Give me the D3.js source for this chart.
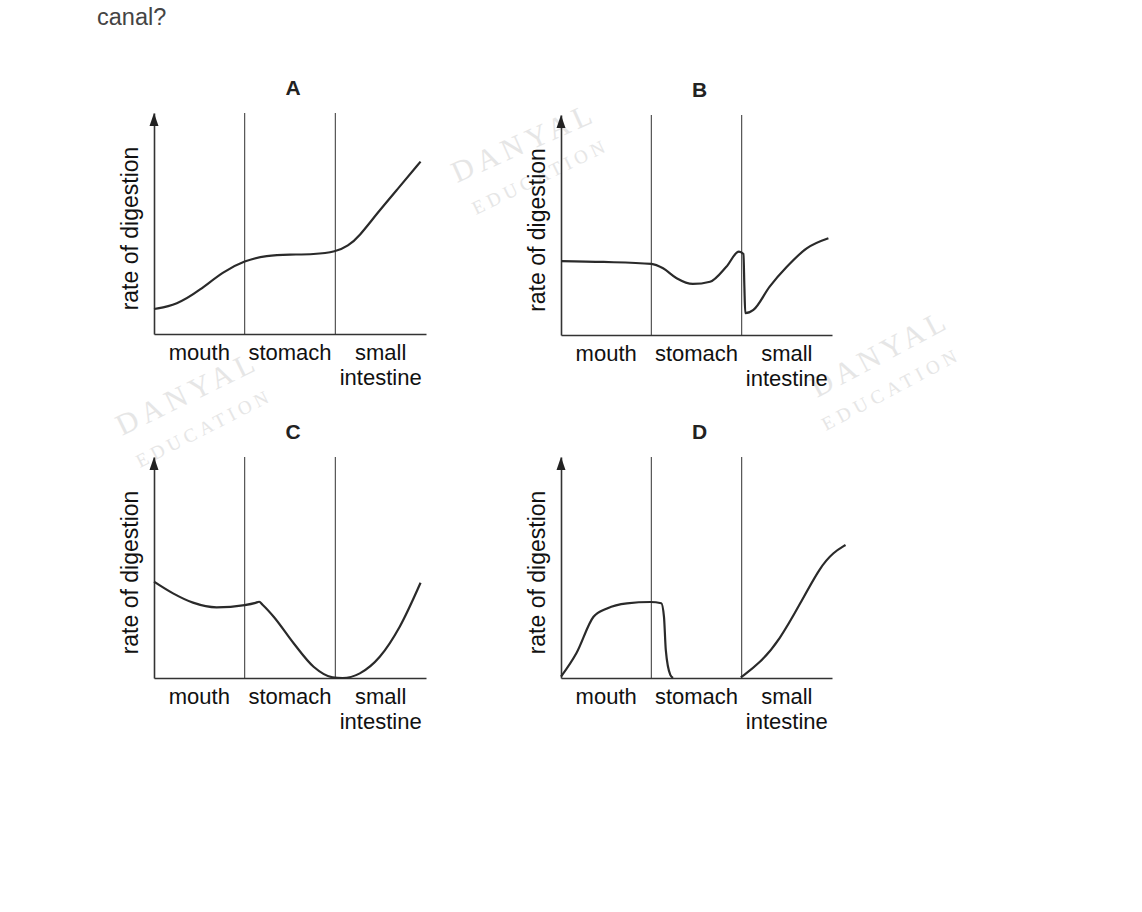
<!DOCTYPE html>
<html>
<head>
<meta charset="utf-8">
<script src="https://cdn.jsdelivr.net/npm/d3@7"></script>
<style>
  body { margin: 0; background: #fff; }
  svg { display: block; }
  text { font-family: "Liberation Sans", Arial, sans-serif; }
</style>
</head>
<body>
<script>
// region names along the canal, one unit of x each
const sections = ["mouth", "stomach", "small intestine"];
const titles = ["A", "B", "C", "D"];
const yLabel = "rate of digestion";

// rate of digestion, x in sections (0-3), y in 0-10
const curveA = [[0,1.13],[0.25,1.31],[0.51,1.99],[0.76,2.82],[1.0,3.32],[1.24,3.56],[1.5,3.6],
  [1.76,3.6],[2.01,3.72],[2.14,3.98],[2.26,4.4],[2.46,5.46],[2.71,6.67],[2.94,7.8]];
const curveB = [[0,3.36],[0.47,3.32],[1.0,3.23],[1.13,3.03],[1.28,2.58],[1.46,2.32],[1.65,2.42],
  [1.83,3.1],[1.97,3.79],[2.02,3.68],[2.03,2.2],[2.04,0.99],[2.13,1.14],[2.31,2.2],[2.5,3.1],
  [2.72,3.94],[2.96,4.4]];
const curveC = [[0,4.36],[0.21,3.83],[0.43,3.41],[0.69,3.2],[1.0,3.3],[1.12,3.4],[1.16,3.45],
  [1.2,3.3],[1.32,2.77],[1.54,1.57],[1.76,0.51],[1.97,0.03],[2.08,0],[2.27,0.21],[2.49,0.96],
  [2.71,2.32],[2.94,4.31]];
const curveD1 = [[0,0.06],[0.17,1.12],[0.36,2.77],[0.51,3.15],[0.73,3.38],[0.99,3.44],[1.11,3.38],
  [1.14,2.77],[1.16,1.27],[1.21,0.14],[1.24,0]];
const curveD2 = [[1.99,0.03],[2.2,0.66],[2.42,1.72],[2.65,3.38],[2.87,5.04],[3.02,5.7],[3.15,6.02]];

const panelCurves = [[curveA], [curveB], [curveC], [curveD1, curveD2]];
// smooth sketches get a spline, the ones with sharp drops keep monotone
const smooth = [curveA, curveD2];

const w = 1142, h = 912;
const boxes = [
  {x0: 154, x1: 426, base: 334, top: 113},
  {x0: 561, x1: 832, base: 335, top: 115},
  {x0: 154, x1: 426, base: 678, top: 457},
  {x0: 561, x1: 832, base: 678, top: 457}
];

const svg = d3.select("body").append("svg")
  .attr("width", w)
  .attr("height", h);

// watermarks (behind everything)
const marks = [
  {x: 457, y: 183, a: -24, t: "DANYAL", s: 30, len: 150},
  {x: 476, y: 215, a: -26, t: "EDUCATION", s: 19, len: 145},
  {x: 817, y: 398, a: -28, t: "DANYAL", s: 30, len: 148},
  {x: 826, y: 431, a: -28, t: "EDUCATION", s: 19, len: 150},
  {x: 122, y: 436, a: -26, t: "DANYAL", s: 30, len: 150},
  {x: 140, y: 468, a: -27, t: "EDUCATION", s: 19, len: 146}
];
svg.append("g").selectAll("text")
  .data(marks)
  .enter()
  .append("text")
  .attr("transform", d => "translate(" + d.x + "," + d.y + ") rotate(" + d.a + ")")
  .attr("textLength", d => d.len)
  .attr("lengthAdjust", "spacing")
  .style("font-family", "'Liberation Serif', 'DejaVu Serif', serif")
  .style("font-size", d => d.s + "px")
  .attr("fill", "#e6e6e6")
  .text(d => d.t);

svg.append("text")
  .attr("x", 97)
  .attr("y", 25)
  .style("font-size", "23.5px")
  .attr("fill", "#444")
  .text("canal?");

const lineSharp = d3.line().curve(d3.curveMonotoneX);
const lineSmooth = d3.line().curve(d3.curveBasis);

boxes.forEach((b, i) => {
  const x = d3.scaleLinear().domain([0, 3]).range([b.x0, b.x1]);
  const y = d3.scaleLinear().domain([0, 10]).range([b.base, b.top]);
  const band = d3.scaleBand().domain(sections).range([b.x0, b.x1]);
  const g = svg.append("g");

  // section dividers
  g.selectAll(".div")
    .data([1, 2])
    .enter()
    .append("line")
    .attr("x1", d => x(d)).attr("x2", d => x(d))
    .attr("y1", y(10)).attr("y2", y(0))
    .attr("stroke", "#444")
    .attr("stroke-width", 1.1);

  // x axis with region labels
  const xa = g.append("g")
    .attr("transform", "translate(0," + b.base + ")")
    .call(d3.axisBottom(band).tickSize(0).tickSizeOuter(0).tickPadding(10));
  xa.select(".domain").attr("stroke", "#333").attr("stroke-width", 1.6);
  xa.selectAll(".tick text")
    .style("font-size", "22px")
    .style("font-family", "'Liberation Sans', Arial, sans-serif")
    .attr("fill", "#111")
    .each(function(d) {
      const words = d.split(" ");
      const t = d3.select(this).text(null);
      words.forEach((wd, k) => {
        t.append("tspan").attr("x", 0).attr("dy", k === 0 ? "0.71em" : "25px").text(wd);
      });
    });

  // y axis with arrow head
  const ya = g.append("g")
    .attr("transform", "translate(" + b.x0 + ",0)")
    .call(d3.axisLeft(y).tickValues([]).tickSizeOuter(0));
  ya.select(".domain").attr("stroke", "#333").attr("stroke-width", 1.6);
  g.append("path")
    .attr("d", "M" + b.x0 + "," + y(10) + "l-4.5,13l9,0z")
    .attr("fill", "#222");

  g.append("text")
    .attr("transform", "translate(" + (b.x0 - 16) + "," + ((b.base + b.top) / 2 + 5) + ") rotate(-90)")
    .attr("text-anchor", "middle")
    .style("font-size", "23px")
    .attr("fill", "#111")
    .text(yLabel);

  g.append("text")
    .attr("x", (b.x0 + b.x1) / 2 + 3)
    .attr("y", b.top - 18)
    .attr("text-anchor", "middle")
    .style("font-size", "21px")
    .style("font-weight", "bold")
    .attr("fill", "#222")
    .text(titles[i]);

  g.selectAll(".curve")
    .data(panelCurves[i])
    .enter()
    .append("path")
    .attr("d", d => {
      const pts = d.map(p => [x(p[0]), y(p[1])]);
      return smooth.includes(d) ? lineSmooth(pts) : lineSharp(pts);
    })
    .attr("fill", "none")
    .attr("stroke", "#2a2a2a")
    .attr("stroke-width", 2.2);
});
</script>
</body>
</html>
